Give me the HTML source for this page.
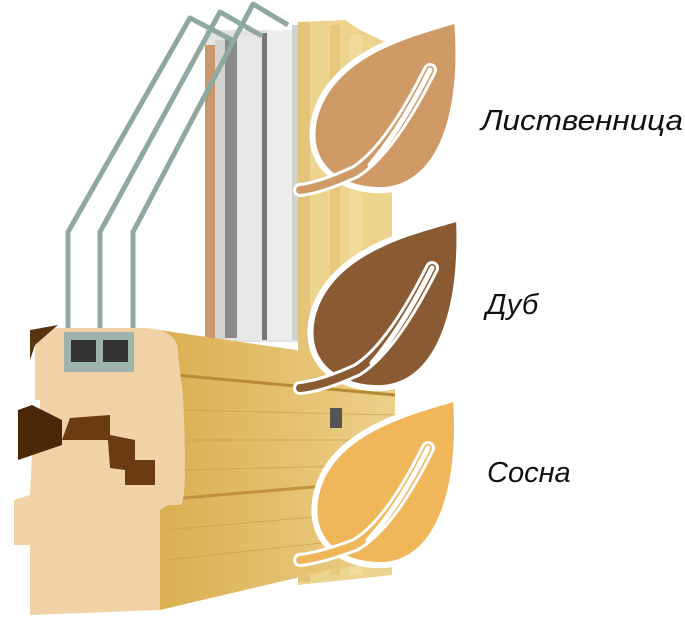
<!DOCTYPE html>
<html><head><meta charset="utf-8"><style>
html,body{margin:0;padding:0;background:#fff;width:685px;height:622px;overflow:hidden}
svg{display:block}
text{font-family:"Liberation Sans",sans-serif;font-style:italic;fill:#111}
</style></head><body>
<svg width="685" height="622" viewBox="0 0 685 622" xmlns="http://www.w3.org/2000/svg">
<defs>
<linearGradient id="side" x1="0" y1="0" x2="1" y2="0"><stop offset="0" stop-color="#d9ad4e"/><stop offset="1" stop-color="#ecd08a"/></linearGradient>
</defs>
<!-- vertical frame post -->
<polygon points="298,22 345,20 360,30 392,45 392,575 298,585" fill="#ecd48f"/>
<rect x="298" y="22" width="12" height="560" fill="#e3c47a"/>
<rect x="330" y="25" width="10" height="550" fill="#e6c77c"/>
<rect x="350" y="35" width="12" height="540" fill="#f0db9c"/>
<!-- gray inner frame -->
<rect x="205" y="30" width="93" height="312" fill="#e2e2e0"/>
<rect x="205" y="45" width="10" height="295" fill="#c8976a"/>
<rect x="215" y="40" width="10" height="300" fill="#d4d4d2"/>
<rect x="225" y="38" width="12" height="300" fill="#8a8a88"/>
<rect x="237" y="35" width="25" height="305" fill="#e8e8e6"/>
<rect x="262" y="33" width="5" height="307" fill="#777"/>
<rect x="267" y="30" width="25" height="310" fill="#ececea"/>
<rect x="292" y="25" width="6" height="315" fill="#d0d0ce"/>
<!-- glass panes -->
<g fill="none" stroke="#8fa8a0" stroke-width="5" stroke-linejoin="round">
<polyline points="68,345 68,232 190,18 232,40"/>
<polyline points="100,345 100,232 220,12 262,36"/>
<polyline points="133,345 133,232 253,4 288,25"/>
</g>
<!-- bottom side face -->
<polygon points="145,328 330,355 395,380 395,560 330,570 160,610 160,330" fill="url(#side)"/>
<line x1="175" y1="375" x2="395" y2="395" stroke="#b98a36" stroke-width="3"/>
<line x1="160" y1="500" x2="395" y2="480" stroke="#c2913d" stroke-width="3"/>
<g stroke="#c89a48" stroke-width="1" opacity="0.6">
<line x1="180" y1="410" x2="395" y2="415"/><line x1="180" y1="440" x2="395" y2="440"/><line x1="180" y1="470" x2="395" y2="465"/><line x1="165" y1="530" x2="395" y2="510"/><line x1="165" y1="560" x2="395" y2="535"/>
</g>
<rect x="330" y="408" width="12" height="20" fill="#555"/>
<!-- cross section -->
<path d="M35,345 L55,328 L145,328 Q180,330 178,355 L183,395 Q188,505 180,505 L168,505 L160,510 L160,610 L30,615 L30,545 L14,545 L14,500 L30,495 L32,455 L40,450 L40,400 L35,400 Z" fill="#f1d2a6"/>
<path d="M30,330 L58,325 L35,345 L30,360 Z" fill="#5a3310"/>
<path d="M18,410 L32,405 L62,420 L62,445 L18,460 Z" fill="#4a2808"/>
<path d="M62,440 L108,440 L110,468 L125,470 L125,485 L155,485 L155,460 L135,460 L135,440 L110,435 L110,415 L70,418 Z" fill="#6b3b12"/>
<rect x="64" y="332" width="70" height="40" fill="#9db3ab"/>
<rect x="71" y="340" width="25" height="22" fill="#333"/>
<rect x="103" y="340" width="25" height="22" fill="#333"/>
<!-- leaves -->
<g stroke="#fff" stroke-width="6">
<path d="M457,20 C420,32 330,50 314,120 C304,170 345,192 385,190 C440,185 465,115 457,20 Z" fill="#cf9a66"/>
<path d="M459,218 C420,230 328,248 312,318 C302,368 343,390 383,388 C438,383 463,313 459,218 Z" fill="#8a5a32"/>
<path d="M456,398 C420,410 330,428 316,495 C306,545 345,567 385,565 C438,560 462,492 456,398 Z" fill="#f0b65a"/>
</g>
<g fill="none" stroke="#fff" stroke-width="14" stroke-linecap="round">
<path d="M430,70 Q390,150 355,172 Q320,188 300,190"/>
<path d="M432,268 Q392,348 357,370 Q322,386 300,388"/>
<path d="M428,448 Q390,525 355,545 Q320,558 300,560"/>
</g>
<g fill="none" stroke-width="8" stroke-linecap="round">
<path d="M430,70 Q390,150 355,172 Q320,188 300,190" stroke="#cf9a66"/>
<path d="M432,268 Q392,348 357,370 Q322,386 300,388" stroke="#8a5a32"/>
<path d="M428,448 Q390,525 355,545 Q320,558 300,560" stroke="#f0b65a"/>
</g>
<g fill="none" stroke="#fff" stroke-width="5" stroke-linecap="round">
<path d="M430,70 Q400,130 370,165"/>
<path d="M432,268 Q402,328 372,363"/>
<path d="M428,448 Q398,508 368,540"/>
</g>
<text x="481" y="130" font-size="29" textLength="202" lengthAdjust="spacingAndGlyphs">Лиственница</text>
<text x="486" y="314" font-size="29">Дуб</text>
<text x="487" y="482" font-size="29">Сосна</text>
</svg>
</body></html>
